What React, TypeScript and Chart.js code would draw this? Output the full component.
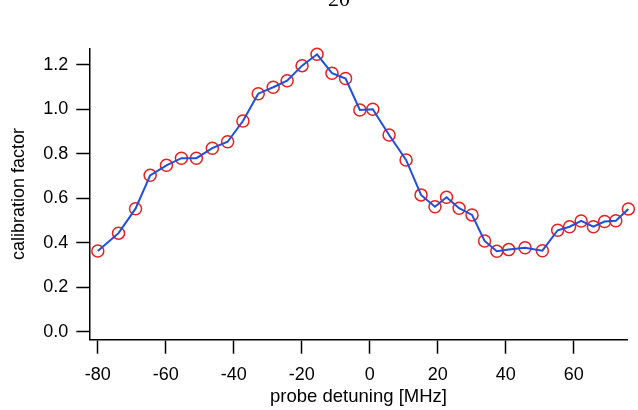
import React, { useEffect, useRef } from "react";
import { Chart, registerables } from "chart.js";

Chart.register(...registerables);

// Probe detuning (MHz) and the measured calibration factor at each setting
const detuning = [
  -80.0, -73.9, -68.9, -64.6, -59.8, -55.4, -51.0, -46.3, -41.8, -37.3,
  -32.8, -28.4, -24.3, -19.9, -15.5, -11.1, -7.1, -2.9, 0.9, 5.7,
  10.7, 15.1, 19.2, 22.6, 26.3, 30.1, 33.8, 37.4, 40.9, 45.7,
  50.8, 55.3, 58.8, 62.2, 65.8, 69.1, 72.4, 76.1,
];
const calibration = [
  0.364, 0.444, 0.554, 0.704, 0.749, 0.781, 0.781, 0.826, 0.855, 0.948,
  1.071, 1.1, 1.129, 1.197, 1.248, 1.163, 1.139, 0.998, 1.001, 0.885,
  0.773, 0.616, 0.563, 0.605, 0.556, 0.526, 0.409, 0.363, 0.37, 0.378,
  0.365, 0.457, 0.473, 0.499, 0.473, 0.496, 0.5, 0.553,
];

const xTicks = [-80, -60, -40, -20, 0, 20, 40, 60];
const yTicks = [0, 0.2, 0.4, 0.6, 0.8, 1.0, 1.2];

const xTitle = "probe detuning [MHz]";
const yTitle = "calibration factor";
const pageLabel = "20";

const W = 638;
const H = 410;
const SANS = "'Liberation Sans', Arial, Helvetica, sans-serif";

// Page number peeking in at the top edge
const pageLabelPlugin = {
  id: "pageLabel",
  afterDraw(chart: any) {
    const ctx = chart.ctx;
    ctx.save();
    ctx.fillStyle = "#000";
    ctx.font = "22px 'Liberation Serif', 'Times New Roman', serif";
    ctx.textAlign = "center";
    ctx.textBaseline = "alphabetic";
    ctx.fillText(pageLabel, 339, 5.5);
    ctx.restore();
  },
};

export default function App() {
  const canvasRef = useRef<HTMLCanvasElement | null>(null);

  useEffect(() => {
    const canvas = canvasRef.current;
    if (!canvas) return;
    const points = detuning.map((x, i) => ({ x, y: calibration[i] }));

    const chart = new Chart(canvas, {
      type: "scatter",
      data: {
        datasets: [
          {
            data: points,
            showLine: true,
            borderColor: "#1f4fdc",
            borderWidth: 2,
            pointRadius: 0,
            pointHoverRadius: 0,
            tension: 0,
            clip: false,
            order: 0,
          },
          {
            data: points,
            showLine: false,
            pointRadius: 6,
            pointHoverRadius: 6,
            pointBorderWidth: 1.5,
            pointBorderColor: "#e8201c",
            pointBackgroundColor: "rgba(0,0,0,0)",
            clip: false,
            order: 1,
          },
        ],
      },
      options: {
        responsive: false,
        animation: false,
        events: [],
        layout: { padding: { top: 48.3, right: 10.3, left: 0, bottom: 0 } },
        plugins: {
          legend: { display: false },
          tooltip: { enabled: false },
          title: { display: false },
        },
        scales: {
          x: {
            type: "linear",
            min: -82.5,
            max: 75.9,
            afterBuildTicks: (s: any) => {
              s.ticks = xTicks.map((v) => ({ value: v }));
            },
            afterFit: (s: any) => {
              s.height = 70.3;
            },
            border: { display: true, color: "#000", width: 1.5 },
            grid: {
              display: true,
              drawOnChartArea: false,
              drawTicks: true,
              tickLength: 14,
              tickWidth: 1.5,
              tickColor: "#000",
            },
            ticks: {
              color: "#000",
              padding: 10.5,
              maxRotation: 0,
              autoSkip: false,
              font: { family: SANS, size: 18 },
              callback: (v: any) => String(v),
            },
            title: {
              display: true,
              text: xTitle,
              color: "#000",
              font: { family: SANS, size: 18.5 },
              padding: { top: 0, bottom: 2 },
            },
          },
          y: {
            type: "linear",
            min: -0.035,
            max: 1.275,
            afterBuildTicks: (s: any) => {
              s.ticks = yTicks.map((v) => ({ value: v }));
            },
            afterFit: (s: any) => {
              s.width = 89.3;
            },
            border: { display: true, color: "#000", width: 1.5 },
            grid: {
              display: true,
              drawOnChartArea: false,
              drawTicks: true,
              tickLength: 13,
              tickWidth: 1.5,
              tickColor: "#000",
            },
            ticks: {
              color: "#000",
              padding: 8,
              autoSkip: false,
              font: { family: SANS, size: 18 },
              callback: (v: any) => Number(v).toFixed(1),
            },
            title: {
              display: true,
              text: yTitle,
              color: "#000",
              font: { family: SANS, size: 18 },
              padding: { top: 8, bottom: 0 },
            },
          },
        },
      },
      plugins: [pageLabelPlugin],
    });

    return () => chart.destroy();
  }, []);

  return (
    <div
      style={{
        position: "absolute",
        left: 0,
        top: 0,
        width: W,
        height: H,
        background: "#fff",
        overflow: "hidden",
      }}
    >
      <canvas ref={canvasRef} width={W} height={H} />
    </div>
  );
}
